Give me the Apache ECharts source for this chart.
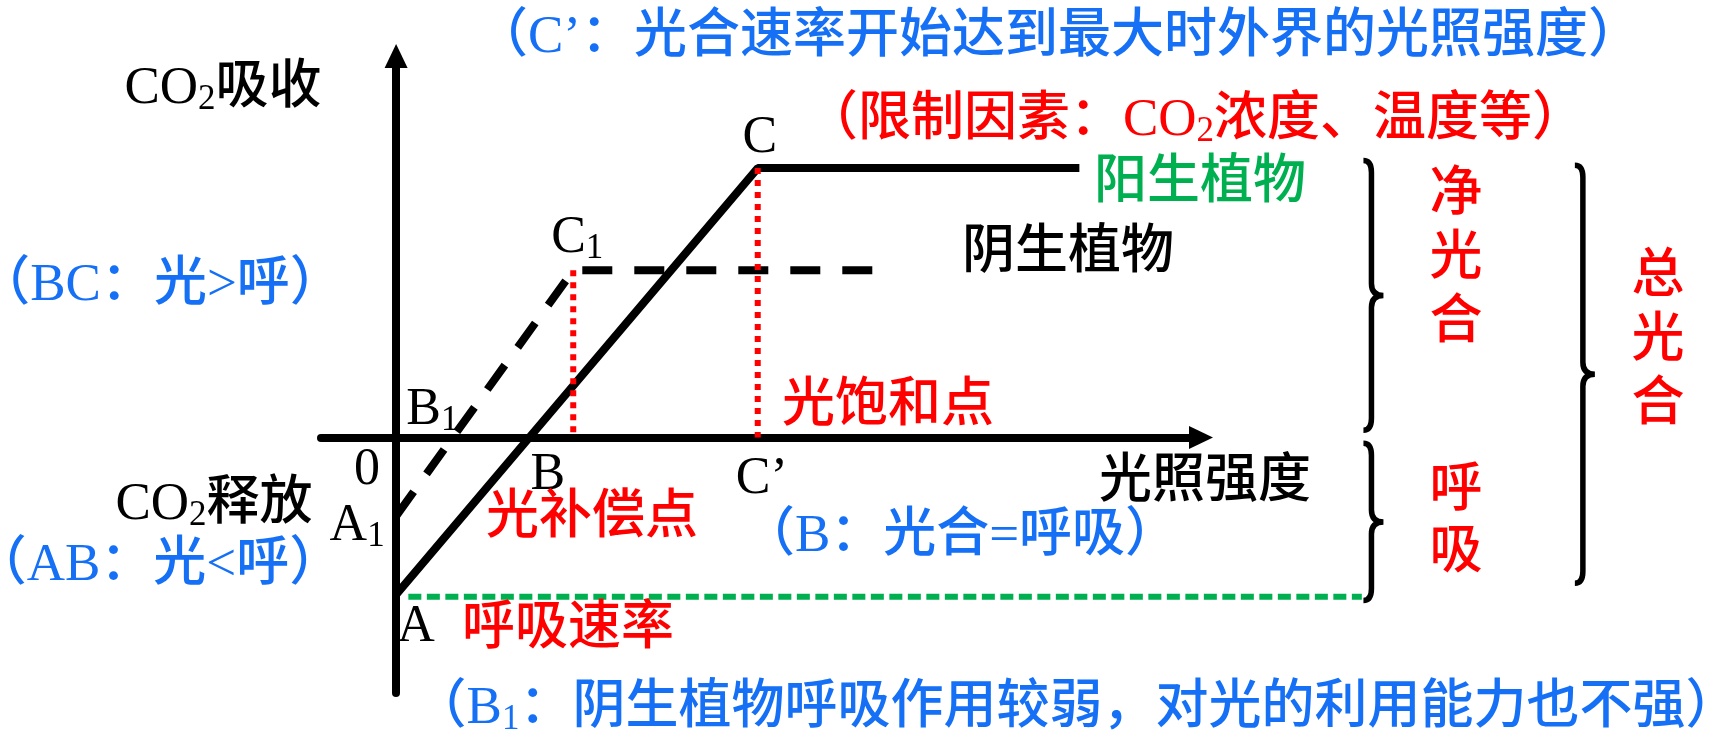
<!DOCTYPE html>
<html>
<head>
<meta charset="utf-8">
<title>光照强度对光合作用的影响</title>
<script src="https://cdn.jsdelivr.net/npm/echarts@6/dist/echarts.min.js"></script>
<style>
    html, body { margin: 0; padding: 0; background: #fff; }
    #chartArea { width: 1717px; height: 742px; }
</style>
</head>
<body>
<div id="chartArea"></div>
<script>
// axis extents (light intensity / CO2 uptake, arbitrary units)
var xRange = [-9.2, 98.6];
var yRange = [-6.5, 9.7];

// 阳生植物: A -> C -> plateau
var sunPlant = [[0, -4], [44.3, 6.85], [83.7, 6.85]];
// 阴生植物: A1 -> C1 -> plateau
var shadePlant = [[0, -2], [21.7, 4.25], [59.5, 4.25]];
// 呼吸速率 line, start and end
var respRate = [[1.5, -4.05], [118.3, -4.05]];
// 光饱和点 drops (C1 and C)
var saturation = [[[21.7, 4.25], [21.7, 0]], [[44.3, 6.85], [44.3, 0]]];
// braces: [x, top, bottom]
var braces = [[118.5, 7.04, 0.18], [118.5, -0.15, -4.15], [144.4, 6.92, -3.71]];

var pointNames = ['A', 'A1', 'B', 'B1', 'C', 'C1', '0', 'C’'];
var pointValues = [[0, -4], [0, -2], [17, 0], [6.9, 0], [44.3, 6.85], [21.7, 4.25], [0, 0], [44.3, 0]];

// layout of the point letters, pixel offsets from the point
var pointLabelOffsets = [[20, 33], [-39, 10], [13, 38], [-20, -27], [2, -30], [4, -32], [-29, 33], [4, 42]];

var blue = '#1570f5', red = '#ff0000', green = '#00b050', black = '#000000';
var FONT = '"Liberation Serif", "Noto Sans CJK SC", serif';
var LATIN = '"Liberation Serif", serif';

var notes = [
    {text: '（{L|C’}：光合速率开始达到最大时外界的光照强度）', color: blue, pos: [1058, 38]},
    {text: '{L|CO}{s|2}吸收', color: black, pos: [223, 89]},
    {text: '（限制因素：{L|CO}{s|2}浓度、温度等）', color: red, pos: [1195, 121]},
    {text: '阳生植物', color: green, pos: [1200, 184]},
    {text: '阴生植物', color: black, pos: [1068, 254]},
    {text: '（{L|BC}：光>呼）', color: blue, pos: [160, 286]},
    {text: '净\n光\n合', color: red, pos: [1456, 260], lh: 64},
    {text: '总\n光\n合', color: red, pos: [1658, 342], lh: 64},
    {text: '呼\n吸', color: red, pos: [1456, 523], lh: 62},
    {text: '光饱和点', color: red, pos: [888, 407]},
    {text: '光照强度', color: black, pos: [1205, 483]},
    {text: '{L|CO}{s|2}释放', color: black, pos: [214, 505]},
    {text: '光补偿点', color: red, pos: [592, 519]},
    {text: '（{L|B}：光合=呼吸）', color: blue, pos: [960, 537]},
    {text: '（{L|AB}：光<呼）', color: blue, pos: [158, 566]},
    {text: '呼吸速率', color: red, pos: [568, 630]},
    {text: '（{L|B}{s|1}：阴生植物呼吸作用较弱，对光的利用能力也不强）', color: blue, pos: [1076, 709]}
];

function braceItem(params, api) {
    var top = api.coord([api.value(0), api.value(1)]);
    var bot = api.coord([api.value(0), api.value(2)]);
    var x = top[0], y0 = top[1], y1 = bot[1], ym = (y0 + y1) / 2;
    var a = 8, c = 12, tip = 20;
    var d = 'M' + x + ' ' + y0 +
        ' Q' + (x + a) + ' ' + y0 + ' ' + (x + a) + ' ' + (y0 + c) +
        ' L' + (x + a) + ' ' + (ym - c) +
        ' Q' + (x + a) + ' ' + ym + ' ' + (x + tip) + ' ' + ym +
        ' Q' + (x + a) + ' ' + ym + ' ' + (x + a) + ' ' + (ym + c) +
        ' L' + (x + a) + ' ' + (y1 - c) +
        ' Q' + (x + a) + ' ' + y1 + ' ' + x + ' ' + y1;
    return {
        type: 'path',
        shape: {pathData: d},
        style: {stroke: black, lineWidth: 5.5, fill: 'none'}
    };
}

function respItem(params, api) {
    var p0 = api.coord([api.value(0), api.value(1)]);
    var p1 = api.coord([api.value(2), api.value(3)]);
    return {
        type: 'line',
        shape: {x1: p0[0], y1: p0[1], x2: p1[0], y2: p1[1]},
        style: {stroke: green, lineWidth: 6, lineDash: [13, 5.5]}
    };
}

function axisStyle(min, max) {
    return {
        type: 'value',
        min: min,
        max: max,
        axisLine: {
            show: true,
            onZero: true,
            symbol: ['none', 'triangle'],
            symbolSize: [23, 24],
            lineStyle: {color: black, width: 8}
        },
        axisTick: {show: false},
        axisLabel: {show: false},
        splitLine: {show: false}
    };
}

var chartDom = document.getElementById('chartArea');
function drawChart() {
    var myChart = echarts.init(chartDom);
    var option;

    var series = [
        {
            type: 'line', data: sunPlant, symbol: 'none', z: 3,
            lineStyle: {color: black, width: 8}
        },
        {
            type: 'line', data: shadePlant, symbol: 'none', z: 3,
            lineStyle: {color: black, width: 8, type: [30, 22]}
        },
        {
            type: 'custom', data: [respRate[0].concat(respRate[1])], renderItem: respItem, clip: false, z: 3
        },
        {
            type: 'custom', data: braces, renderItem: braceItem, clip: false, z: 3
        },
        {
            type: 'scatter', symbolSize: 1, z: 5,
            itemStyle: {color: 'transparent'},
            data: pointValues.map(function (v, i) {
                return {value: v, name: pointNames[i], label: {offset: pointLabelOffsets[i]}};
            }),
            label: {
                show: true,
                position: 'inside',
                color: black,
                opacity: 1,
                textBorderWidth: 0,
                formatter: function (p) {
                    var m = p.name.match(/^([A-Z])(\d)$/);
                    return m ? '{n|' + m[1] + '}{s|' + m[2] + '}' : '{n|' + p.name + '}';
                },
                rich: {
                    n: {fontSize: 52, fontFamily: LATIN, color: black, textBorderWidth: 0, lineHeight: 56},
                    s: {fontSize: 35, fontFamily: LATIN, color: black, textBorderWidth: 0, lineHeight: 12, verticalAlign: 'bottom'}
                }
            }
        }
    ];
    saturation.forEach(function (seg) {
        series.push({
            type: 'line', data: seg, symbol: 'none', z: 4,
            lineStyle: {color: red, width: 6, type: [6, 6]}
        });
    });

    option = {
        animation: false,
        backgroundColor: '#ffffff',
        grid: {left: 321, right: 516, top: 56, bottom: 49, outerBoundsMode: 'none'},
        xAxis: axisStyle(xRange[0], xRange[1]),
        yAxis: axisStyle(yRange[0], yRange[1]),
        series: series,
        graphic: notes.map(function (n) {
            return {
                type: 'text',
                x: n.pos[0],
                y: n.pos[1],
                z: 10,
                style: {
                    text: n.text,
                    fill: n.color,
                    fontSize: 53,
                    fontWeight: 500,
                    fontFamily: FONT,
                    lineHeight: n.lh || 56,
                    align: 'center',
                    verticalAlign: 'middle',
                    textAlign: 'center',
                    textVerticalAlign: 'middle',
                    rich: {
                        L: {fontSize: 53, fontFamily: LATIN, fill: n.color, lineHeight: 56},
                        s: {fontSize: 35, fontFamily: LATIN, fill: n.color, lineHeight: 10, verticalAlign: 'bottom'}
                    }
                }
            };
        })
    };

    option && myChart.setOption(option);
}

window.onload = function () {
    drawChart();
};
</script>
</body>
</html>
